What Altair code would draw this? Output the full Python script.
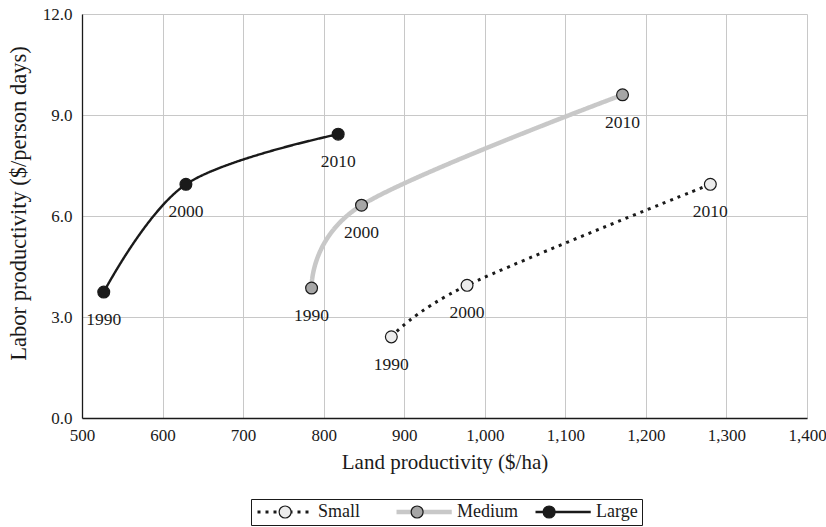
import altair as alt
import pandas as pd

# ---- data ----
series = ["Small", "Medium", "Large"]
years = [1990, 2000, 2010]

small_land = [884, 978, 1280]
small_labor = [2.41, 3.94, 6.94]
medium_land = [785, 847, 1171]
medium_labor = [3.86, 6.32, 9.60]
large_land = [527, 629, 818]
large_labor = [3.74, 6.94, 8.43]

x_ticks = [500, 600, 700, 800, 900, 1000, 1100, 1200, 1300, 1400]
y_ticks = [0, 3, 6, 9, 12]

# ---- styles ----
FONT = "Liberation Serif"
INK = "#1a1a1a"
line_colors = ["#1a1a1a", "#c8c8c8", "#1a1a1a"]
line_dashes = [[3, 5], [1, 0], [1, 0]]
line_widths = [3, 4.5, 2.4]
point_fills = ["#ececec", "#a6a6a6", "#1a1a1a"]

rows = []
for name, xs, ys in zip(series, [small_land, medium_land, large_land],
                        [small_labor, medium_labor, large_labor]):
    for yr, xv, yv in zip(years, xs, ys):
        rows.append({"series": name, "year": str(yr), "land": xv, "labor": yv})
df = pd.DataFrame(rows)

x_enc = alt.X("land:Q",
              scale=alt.Scale(domain=[500, 1400], nice=False, zero=False),
              axis=alt.Axis(values=x_ticks, format=",.0f", title="Land productivity ($/ha)",
                            labelPadding=9, titlePadding=8, labelFlush=False))
y_enc = alt.Y("labor:Q",
              scale=alt.Scale(domain=[0, 12], nice=False),
              axis=alt.Axis(values=y_ticks, format=".1f",
                            title="Labor productivity ($/person days)",
                            labelPadding=10, titlePadding=12, labelFlush=False,
                            titleY=189, titleFontSize=22.5))

LEG_X, LEG_Y, SYM = 169, 485, 169
LINE_PATH = "M-1,0H7.5"
CIRCLE_PATH = "M4.17,0A0.92,0.92,0,1,1,2.33,0A0.92,0.92,0,1,1,4.17,0Z"
LBL_OFF = 45
COL_PAD = 8

line_legend = alt.Legend(title=None, orient="none", legendX=LEG_X, legendY=LEG_Y,
                         direction="horizontal", gridAlign="all",
                         symbolType=LINE_PATH, symbolSize=SYM,
                         labelFont=FONT, labelFontSize=18, labelColor=INK,
                         labelOffset=LBL_OFF, columnPadding=COL_PAD, padding=4,
                         strokeColor=INK)

# marker legend laid over the line legend (its labels are hidden)
pt_legend = alt.Legend(title=None, orient="none", legendX=LEG_X, legendY=LEG_Y,
                       direction="horizontal", gridAlign="all",
                       symbolType=CIRCLE_PATH,
                       symbolSize=SYM, symbolStrokeColor=INK, symbolStrokeWidth=1.2,
                       symbolOpacity=1,
                       labelFont=FONT, labelFontSize=18, labelOpacity=0,
                       labelOffset=LBL_OFF, columnPadding=COL_PAD, padding=4)

base = alt.Chart(df)

lines = base.mark_line(interpolate="cardinal", tension=0, strokeCap="butt").encode(
    x=x_enc, y=y_enc,
    color=alt.Color("series:N", scale=alt.Scale(domain=series, range=line_colors), legend=line_legend),
    strokeDash=alt.StrokeDash("series:N", scale=alt.Scale(domain=series, range=line_dashes), legend=line_legend),
    strokeWidth=alt.StrokeWidth("series:N", scale=alt.Scale(type="ordinal", domain=series, range=line_widths),
                                legend=line_legend),
    order="land:Q",
)

points = base.mark_point(shape="circle", filled=True, size=140, stroke=INK,
                         strokeWidth=1.2, opacity=1).encode(
    x=x_enc, y=y_enc,
    fill=alt.Fill("series:N", sort=series, scale=alt.Scale(range=point_fills), legend=pt_legend),
)

labels = base.mark_text(dy=28, fontSize=17.5, font=FONT, color=INK,
                        align="center", baseline="middle").encode(
    x=x_enc, y=y_enc, text="year:N",
)

chart = alt.layer(lines, points, labels).properties(
    width=725, height=404,
    padding={"left": 82, "top": 14, "right": 19, "bottom": 109},
    autosize=alt.AutoSizeParams(type="none"),
).configure_view(stroke=None).configure_axis(
    gridColor="#c8c8c8", gridWidth=1, domainColor=INK, domainWidth=1.3,
    ticks=False, labelFont=FONT, labelFontSize=17, labelColor=INK,
    titleFont=FONT, titleFontSize=21, titleFontWeight="normal", titleColor=INK,
)

chart.save("out.html", embed_options={"renderer": "svg", "actions": False})
